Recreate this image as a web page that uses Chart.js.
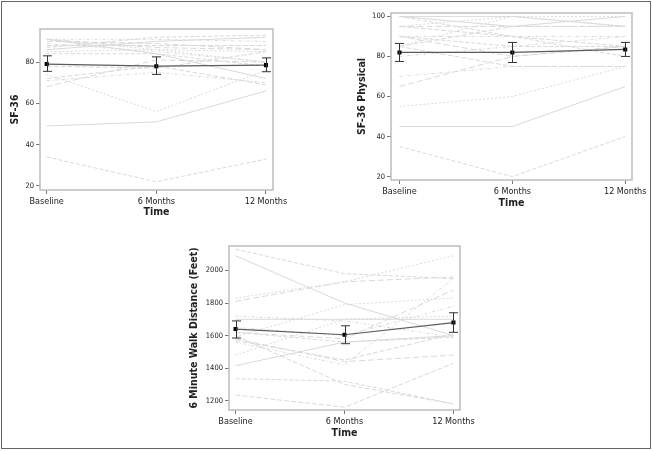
<!DOCTYPE html>
<html>
<head>
<meta charset="utf-8">
<script src="https://cdn.jsdelivr.net/npm/chart.js@4/dist/chart.umd.min.js"></script>
<style>
  html, body { margin: 0; padding: 0; background: #fff; }
  body { width: 653px; height: 451px; position: relative; overflow: hidden; }
  #frame { position: absolute; left: 1px; top: 1px; width: 648px; height: 446px; border: 1px solid #666; }
  canvas { position: absolute; }
</style>
</head>
<body>
<div id="frame"></div>
<canvas id="sf36" width="290" height="220" style="left:0;top:0"></canvas>
<canvas id="sf36phys" width="313" height="211" style="left:340px;top:0"></canvas>
<canvas id="walk" width="310" height="205" style="left:170px;top:236px"></canvas>
<script>
const timepoints = ['Baseline', '6 Months', '12 Months'];

// SF-36 (per subject: baseline, 6 months, 12 months)
const sf36Subjects = [
  [34, 22, 33], [49, 51, 66], [74, 56, 76], [68, 81, 80], [71, 75, 70],
  [72, 78, 69], [84, 84, 78], [91, 84, 72], [91, 86, 80], [90, 89, 86],
  [91, 91, 90], [88, 88, 88], [87, 92, 93], [86, 90, 92], [85, 86, 85],
  [91, 87, 86], [89, 85, 80], [78, 77, 85],
];
const sf36Mean = [79, 78, 78.5];
const sf36Low  = [75.5, 74, 75.3];
const sf36High = [83, 82.5, 82];
const sf36Ticks = [20, 40, 60, 80];

// SF-36 Physical
const physSubjects = [
  [35, 20, 40], [45, 45, 65], [55, 60, 75], [65, 80, 85], [70, 75, 75],
  [85, 75, 75], [100, 90, 80], [100, 100, 95], [95, 100, 100], [95, 95, 95],
  [90, 90, 90], [85, 95, 95], [90, 85, 85], [100, 95, 100], [85, 100, 95],
  [90, 80, 85], [80, 85, 90], [95, 90, 85],
];
const physMean = [82, 82, 83.5];
const physLow  = [77.5, 77, 80];
const physHigh = [86.5, 87, 87];
const physTicks = [20, 40, 60, 80, 100];

// 6 minute walk distance (feet)
const walkSubjects = [
  [2130, 1980, 1950], [2090, 1800, 1600], [1830, 1930, 2090], [1810, 1930, 1960],
  [1720, 1690, 1590], [1235, 1160, 1430], [1335, 1320, 1180], [1415, 1560, 1600],
  [1480, 1700, 1720], [1580, 1440, 1480], [1560, 1420, 1950], [1600, 1300, 1180],
  [1620, 1560, 1590], [1700, 1700, 1700], [1590, 1790, 1830], [1620, 1580, 1880],
  [1650, 1600, 1780], [1570, 1450, 1610],
];
const walkMean = [1640, 1605, 1680];
const walkLow  = [1585, 1550, 1620];
const walkHigh = [1690, 1660, 1740];
const walkTicks = [1200, 1400, 1600, 1800, 2000];

const dashes = [[4, 2], [], [2, 2], [6, 3], [3, 2, 1, 2], [5, 2]];
const narrow = '"Liberation Sans Narrow", "DejaVu Sans Condensed", Arial, sans-serif';

const boxPlugin = {
  id: 'box',
  afterDraw(chart) {
    const { ctx, chartArea: a } = chart;
    ctx.save();
    ctx.strokeStyle = '#bdbdbd';
    ctx.lineWidth = 1.5;
    ctx.strokeRect(a.left, a.top, a.right - a.left, a.bottom - a.top);
    ctx.restore();
  }
};

const errorBarPlugin = {
  id: 'errbars',
  afterDatasetsDraw(chart, args, opts) {
    const { ctx, scales: { x, y } } = chart;
    ctx.save();
    ctx.strokeStyle = '#333';
    ctx.lineWidth = 1;
    opts.low.forEach((lo, i) => {
      const px = Math.round(x.getPixelForValue(i)) + 0.5;
      const y1 = y.getPixelForValue(lo);
      const y2 = y.getPixelForValue(opts.high[i]);
      ctx.beginPath();
      ctx.moveTo(px, y1); ctx.lineTo(px, y2);
      ctx.moveTo(px - 4.5, y1); ctx.lineTo(px + 4.5, y1);
      ctx.moveTo(px - 4.5, y2); ctx.lineTo(px + 4.5, y2);
      ctx.stroke();
    });
    ctx.restore();
  }
};

function makeChart(id, c) {
  const subjectSets = c.subjects.map((vals, k) => ({
    data: vals.map((v, i) => ({ x: i, y: v })),
    borderColor: '#d9d9d9',
    borderWidth: 1,
    borderDash: dashes[k % dashes.length],
    pointRadius: 0,
    tension: 0,
    order: 2,
  }));
  const meanSet = {
    data: c.mean.map((v, i) => ({ x: i, y: v })),
    borderColor: '#5a5a5a',
    borderWidth: 1.2,
    pointStyle: 'rect',
    pointRadius: 2,
    pointBackgroundColor: '#000',
    pointBorderColor: '#000',
    tension: 0,
    order: 0,
  };

  return new Chart(document.getElementById(id), {
    type: 'line',
    data: { datasets: [meanSet, ...subjectSets] },
    options: {
      responsive: false,
      animation: false,
      layout: { padding: c.pad },
      plugins: {
        legend: { display: false },
        tooltip: { enabled: false },
        errbars: { low: c.low, high: c.high },
      },
      scales: {
        x: {
          type: 'linear',
          min: c.xMin, max: c.xMax,
          afterBuildTicks: s => { s.ticks = timepoints.map((_, i) => ({ value: i })); },
          afterFit: s => { s.height = c.xh; },
          grid: { drawOnChartArea: false, tickLength: 4, color: '#777' },
          border: { display: false },
          ticks: {
            callback: v => timepoints[v],
            font: { family: narrow, size: 9 }, color: '#222',
            padding: 2, maxRotation: 0, autoSkip: false,
          },
          title: {
            display: true, text: 'Time', color: '#222',
            font: { family: narrow, size: 10.5, weight: 'bold' },
            padding: { top: 0, bottom: 1 },
          },
        },
        y: {
          min: c.yMin, max: c.yMax,
          afterBuildTicks: s => { s.ticks = c.yTicks.map(v => ({ value: v })); },
          afterFit: s => { s.width = c.yw; },
          grid: { drawOnChartArea: false, tickLength: 4, color: '#777' },
          border: { display: false },
          ticks: {
            callback: v => String(v),
            font: { family: narrow, size: 7.5 }, color: '#222', padding: 2,
          },
          title: {
            display: true, text: c.title, color: '#222',
            font: { family: narrow, size: 10.5, weight: 'bold' },
            padding: { top: 1, bottom: 0 },
          },
        },
      },
    },
    plugins: [boxPlugin, errorBarPlugin],
  });
}

makeChart('sf36', {
  subjects: sf36Subjects, mean: sf36Mean, low: sf36Low, high: sf36High,
  yTicks: sf36Ticks, yMin: 18, yMax: 96, xMin: -0.061, xMax: 2.064,
  title: 'SF-36', pad: { left: 8, top: 29, right: 17, bottom: 0 }, yw: 32, xh: 30,
});

makeChart('sf36phys', {
  subjects: physSubjects, mean: physMean, low: physLow, high: physHigh,
  yTicks: physTicks, yMin: 18.3, yMax: 101.7, xMin: -0.075, xMax: 2.06,
  title: 'SF-36 Physical', pad: { left: 15, top: 13, right: 21, bottom: 0 }, yw: 36, xh: 31,
});

makeChart('walk', {
  subjects: walkSubjects, mean: walkMean, low: walkLow, high: walkHigh,
  yTicks: walkTicks, yMin: 1143, yMax: 2150, xMin: -0.06, xMax: 2.06,
  title: '6 Minute Walk Distance (Feet)', pad: { left: 17, top: 10, right: 20, bottom: 0 }, yw: 42, xh: 31,
});
</script>
</body>
</html>
